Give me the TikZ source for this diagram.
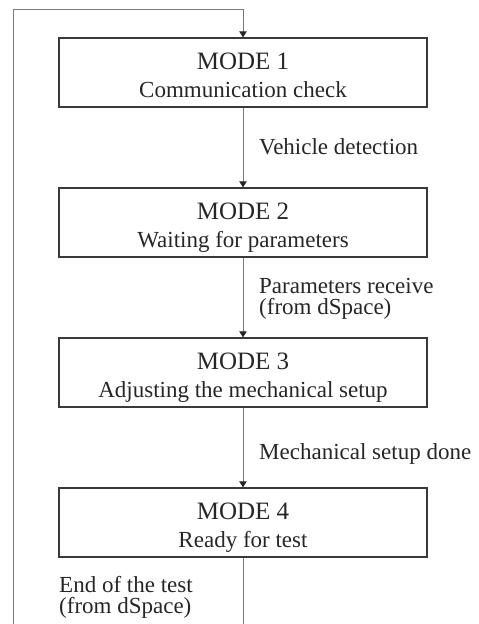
\documentclass[tikz,border=0pt]{standalone}
\usepackage{fontspec}
\setmainfont{Liberation Serif}
\usetikzlibrary{arrows.meta}
\definecolor{boxline}{HTML}{3A3A3A}
\definecolor{wire}{HTML}{7A7A7A}
\definecolor{ink}{HTML}{262626}
\begin{document}
\begin{tikzpicture}[x=1pt,y=-1pt,
  modebox/.style={draw=boxline,line width=1.4pt,minimum width=368pt,minimum height=69pt,
    inner sep=0pt},
  wireline/.style={draw=wire,line width=0.9pt},
  flow/.style={wireline,-{Triangle[length=6pt,width=7.5pt,fill=ink,color=ink]}},
  txt/.style={inner sep=0pt,text=ink,font=\fontsize{23}{23}\selectfont},
  modetitle/.style={txt,anchor=base,font=\fontsize{25}{25}\selectfont},
  modesub/.style={txt,anchor=base},
  lbl/.style={txt,anchor=base west}]
\useasboundingbox (0,0) rectangle (479,624);
% mode boxes (top edges at 38, 188, 338, 488)
\node[modebox] (m1) at (243,72.5) {};
\node[modebox] (m2) at (243,222.5) {};
\node[modebox] (m3) at (243,372.5) {};
\node[modebox] (m4) at (243,522.5) {};
\node[modetitle] (m1a) at (243,69)  {MODE 1};
\node[modesub]   (m1b) at (243,97)  {Communication check};
\node[modetitle] (m2a) at (243,219) {MODE 2};
\node[modesub]   (m2b) at (243,247) {Waiting for parameters};
\node[modetitle] (m3a) at (243,369) {MODE 3};
\node[modesub]   (m3b) at (243,397) {Adjusting the mechanical setup};
\node[modetitle] (m4a) at (243,519) {MODE 4};
\node[modesub]   (m4b) at (243,547) {Ready for test};
% transitions between modes
\draw[flow] (m1.south) -- (m2.north);
\draw[flow] (m2.south) -- (m3.north);
\draw[flow] (m3.south) -- (m4.north);
% return path back to mode 1
\coordinate (tail) at (243,624);
\coordinate (loopbot) at (13,624);
\coordinate (looptop) at (13,9);
\draw[wireline] (m4.south) -- (tail);
\draw[flow] (loopbot) -- (looptop) -| (m1.north);
% transition labels
\node[lbl] (t1)  at (259,154) {Vehicle detection};
\node[lbl] (t2a) at (259,293) {Parameters receive};
\node[lbl] (t2b) at (259,314) {(from dSpace)};
\node[lbl] (t3)  at (259,459) {Mechanical setup done};
\node[lbl] (t4a) at (59,592)  {End of the test};
\node[lbl] (t4b) at (59,613)  {(from dSpace)};
\end{tikzpicture}
\end{document}
